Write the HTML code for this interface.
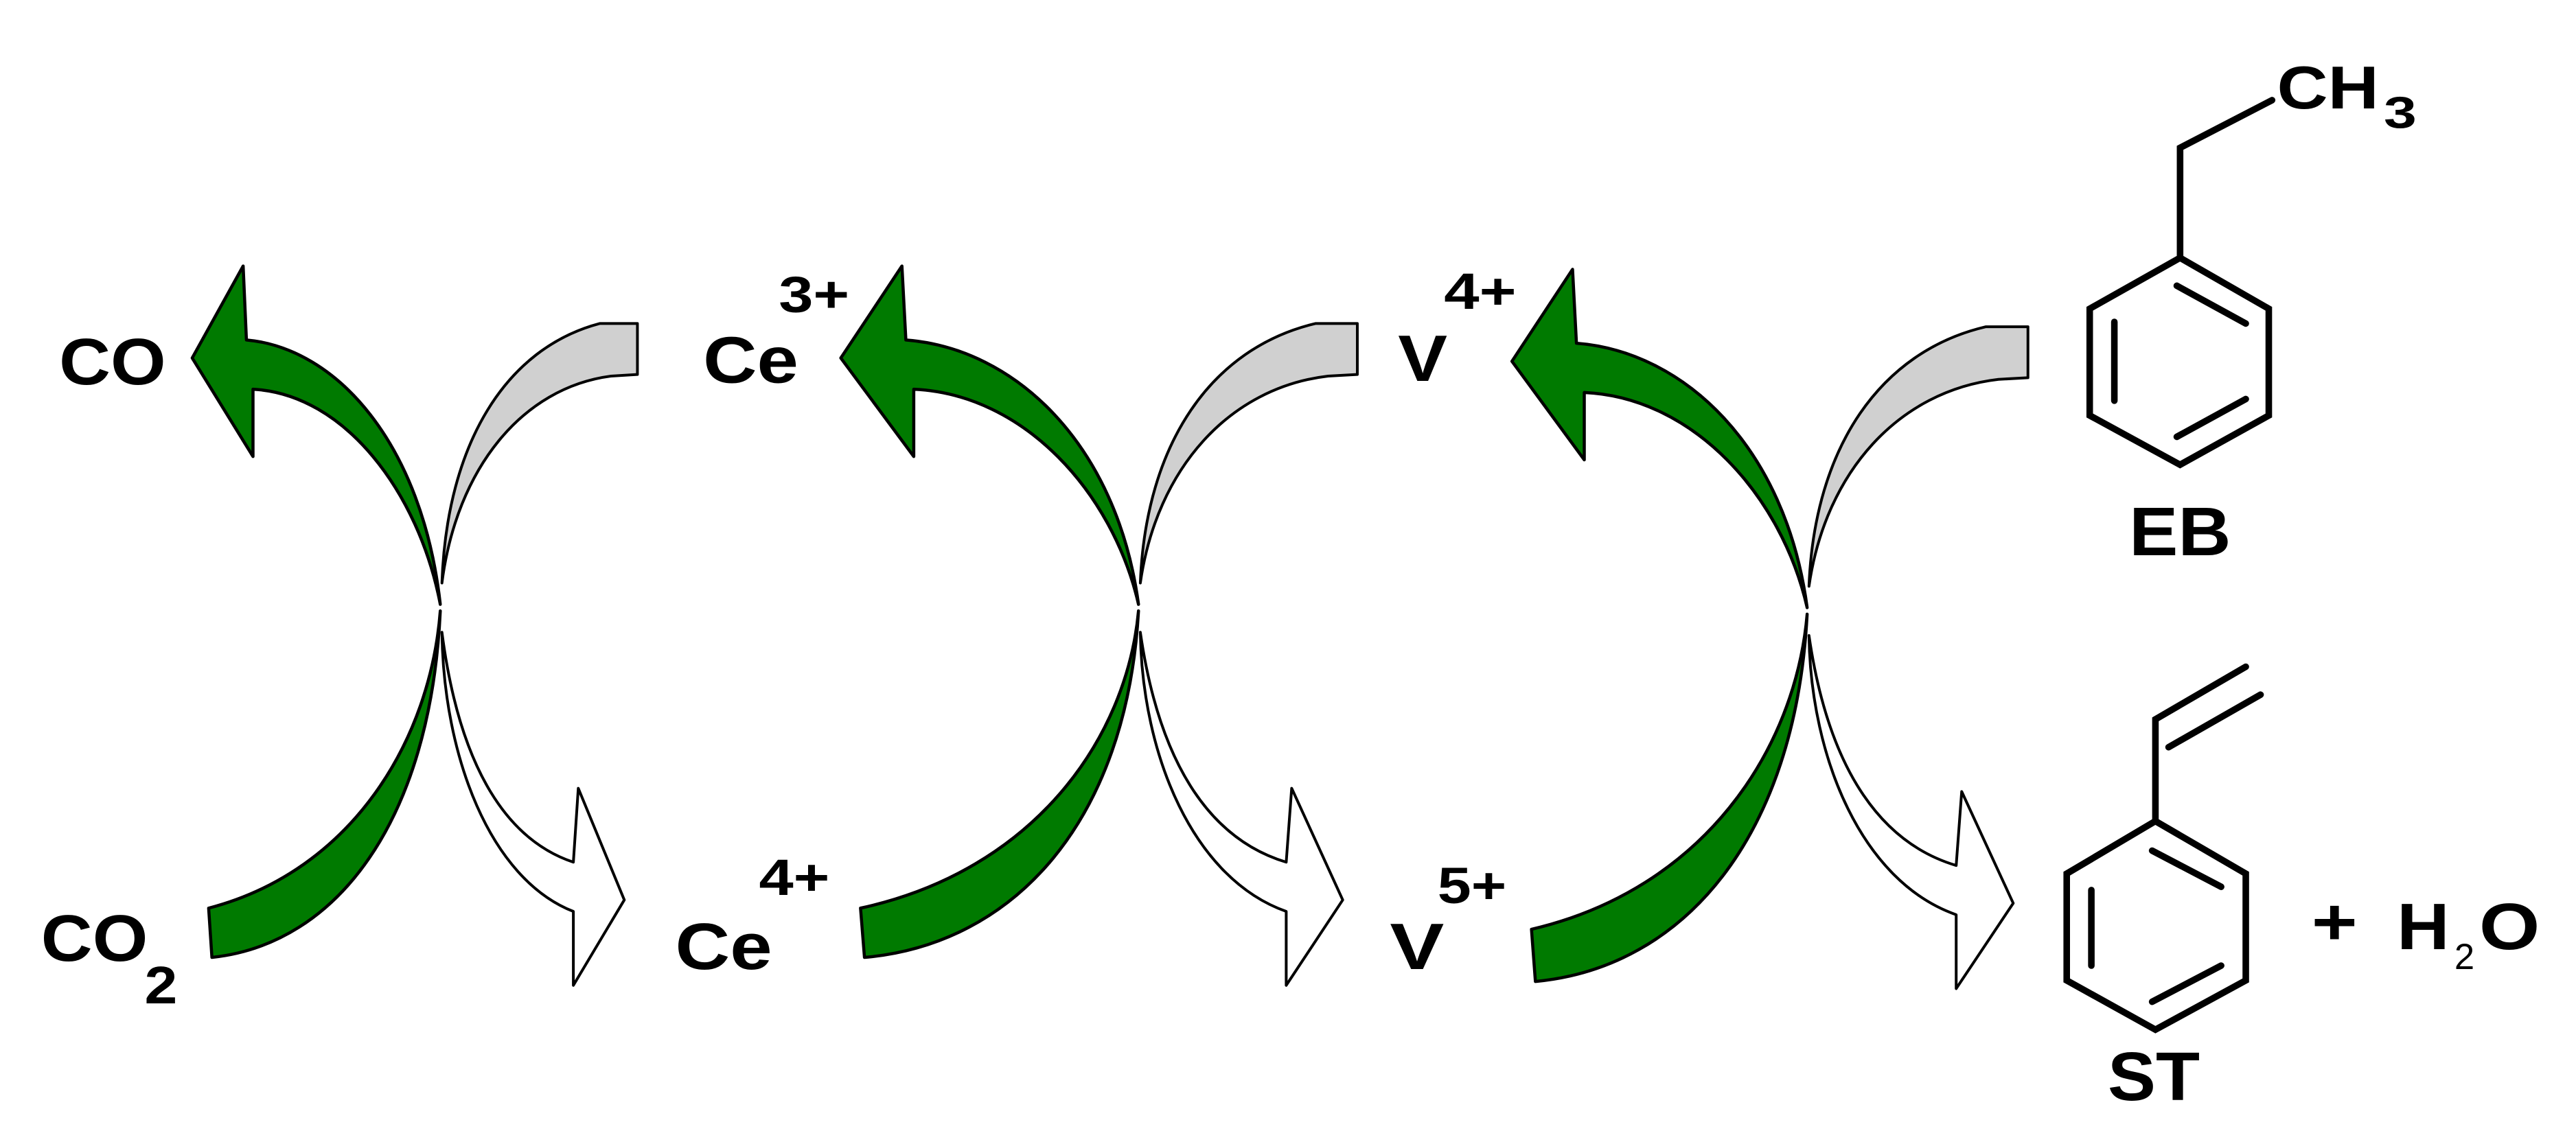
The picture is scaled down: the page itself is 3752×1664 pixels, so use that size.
<!DOCTYPE html>
<html><head><meta charset="utf-8"><style>
html,body{margin:0;padding:0;background:#fff;}
svg{display:block;}
text{font-family:"Liberation Sans",sans-serif;font-weight:bold;fill:#000;}
</style></head><body>
<svg width="3752" height="1664" viewBox="0 0 1568 695.4" preserveAspectRatio="none" xmlns="http://www.w3.org/2000/svg">
<defs>
<g id="LT" stroke="#000" stroke-width="4.5" stroke-linejoin="round">
  <path vector-effect="non-scaling-stroke" fill="#007a00" d="M117,218 L148,162 L150,207 C205,212 257,270 268,368 C255,300 210,240 154,237 L154,278 Z"/>
</g>
<g id="LB" stroke="#000" stroke-width="4.5" stroke-linejoin="round">
  <path vector-effect="non-scaling-stroke" fill="#007a00" d="M268,372 C262,450 215,530 127,553 L129,583 C205,575 262,500 268,372 Z"/>
</g>
<g id="R" stroke="#000" stroke-width="4" stroke-linejoin="round">
  <path vector-effect="non-scaling-stroke" fill="#d0d0d0" d="M365,197 L388,197 L388,228 L372,229 C318,236 278,285 269,355 C272,270 308,212 365,197 Z"/>
  <path vector-effect="non-scaling-stroke" fill="#fff" d="M269,385 C280,470 310,512 349,525 L352,480 L380,548 L349,600 L349,555 C298,535 270,460 269,385 Z"/>
</g>
</defs>
<use href="#LT"/><use href="#LB"/>
<use href="#R"/>
<g transform="translate(693,0) scale(1.2,1) translate(-268,0)"><use href="#LT"/><use href="#LB"/></g>
<g transform="translate(693,0) scale(1.11,1) translate(-268,0)"><use href="#R"/></g>
<g transform="translate(1100,2) scale(1.19,1) translate(-268,0)"><use href="#LT"/></g>
<g transform="translate(1100,374) scale(1.19,1.06) translate(-268,-372)"><use href="#LB"/></g>
<g transform="translate(1100,2) scale(1.12,1) translate(-268,0)"><use href="#R"/></g>

<text x="36" y="234" font-size="40" textLength="65" lengthAdjust="spacingAndGlyphs">CO</text>
<text x="25" y="585" font-size="40" textLength="65" lengthAdjust="spacingAndGlyphs">CO</text>
<text x="88" y="611" font-size="32" textLength="20" lengthAdjust="spacingAndGlyphs">2</text>

<text x="428" y="233" font-size="40" textLength="58" lengthAdjust="spacingAndGlyphs">Ce</text>
<text x="474" y="190" font-size="31" textLength="43" lengthAdjust="spacingAndGlyphs">3+</text>
<text x="411" y="590" font-size="40" textLength="59" lengthAdjust="spacingAndGlyphs">Ce</text>
<text x="462" y="545" font-size="31" textLength="43" lengthAdjust="spacingAndGlyphs">4+</text>

<text x="851" y="232" font-size="40" textLength="30" lengthAdjust="spacingAndGlyphs">V</text>
<text x="879" y="188" font-size="31" textLength="44" lengthAdjust="spacingAndGlyphs">4+</text>
<text x="846" y="590" font-size="40" textLength="33" lengthAdjust="spacingAndGlyphs">V</text>
<text x="875" y="550" font-size="31" textLength="42" lengthAdjust="spacingAndGlyphs">5+</text>

<g stroke="#000" stroke-width="4" fill="none" stroke-linecap="round" stroke-linejoin="miter">
  <polygon points="1327,157 1381,188 1381,253 1327,283 1272,253 1272,188"/>
  <polyline points="1327,157 1327,90 1383,61"/>
  <line x1="1287" y1="196" x2="1287" y2="244"/>
  <line x1="1325" y1="174" x2="1367" y2="197"/>
  <line x1="1325" y1="266" x2="1367" y2="243"/>

  <polygon points="1312,500 1367,532 1367,597 1312,627 1258,597 1258,532"/>
  <polyline points="1312,500 1312,438 1367,406"/>
  <line x1="1320" y1="455" x2="1376" y2="423"/>
  <line x1="1273" y1="542" x2="1273" y2="588"/>
  <line x1="1310" y1="518" x2="1352" y2="540"/>
  <line x1="1310" y1="610" x2="1352" y2="588"/>
</g>
<text x="1386" y="66" font-size="37" textLength="62" lengthAdjust="spacingAndGlyphs">CH</text>
<text x="1451" y="78" font-size="27" textLength="20" lengthAdjust="spacingAndGlyphs">3</text>
<text x="1296" y="338" font-size="42" textLength="62" lengthAdjust="spacingAndGlyphs">EB</text>
<text x="1283" y="670" font-size="42" textLength="56" lengthAdjust="spacingAndGlyphs">ST</text>
<text x="1407" y="575" font-size="40" textLength="28" lengthAdjust="spacingAndGlyphs">+</text>
<text x="1459" y="578" font-size="40" textLength="32" lengthAdjust="spacingAndGlyphs">H</text>
<text x="1494" y="590" font-size="22" style="font-weight:normal">2</text>
<text x="1509" y="578" font-size="40" textLength="37" lengthAdjust="spacingAndGlyphs">O</text>
</svg>
</body></html>
